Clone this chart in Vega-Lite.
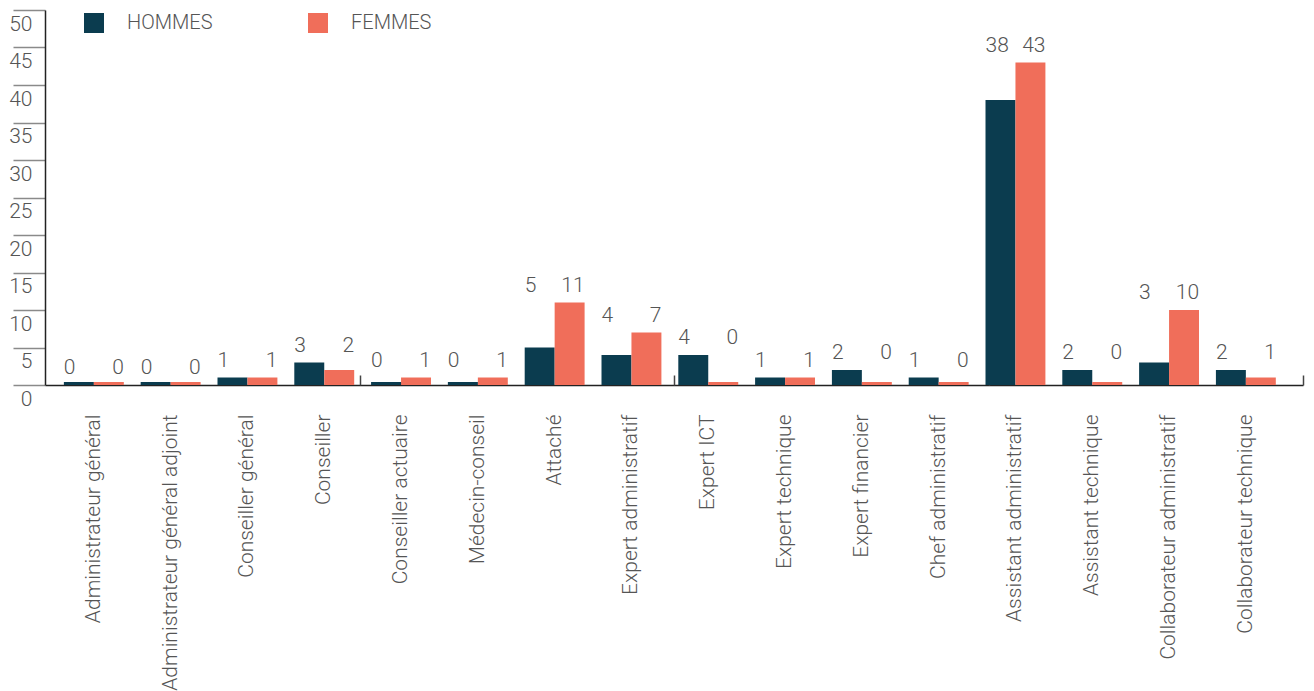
{
  "$schema": "https://vega.github.io/schema/vega-lite/v6.json",
  "width": 1258,
  "height": 375,
  "autosize": {"type": "none"},
  "padding": {"left": 45, "top": 10, "right": 11, "bottom": 306},
  "background": "white",
  "config": {
    "view": {"stroke": null},
    "font": "Roboto",
    "text": {"font": "Roboto", "fontWeight": 300},
    "axisY": {
      "title": null,
      "tickCount": 10,
      "labelOverlap": false,
      "grid": false,
      "ticks": true,
      "tickSize": 32,
      "tickColor": "#8a8a8a",
      "tickWidth": 1.5,
      "domainColor": "#222222",
      "domainWidth": 1.5,
      "labelAlign": "right",
      "labelBaseline": "top",
      "labelOffset": 3,
      "labelPadding": -19,
      "labelFontSize": 21,
      "labelFont": "Roboto",
      "labelFontWeight": 300,
      "labelColor": "#555555"
    }
  },
  "data": {
    "values": [
      {"fonction": "Administrateur général", "sexe": "HOMMES", "n": 0},
      {"fonction": "Administrateur général", "sexe": "FEMMES", "n": 0},
      {"fonction": "Administrateur général adjoint", "sexe": "HOMMES", "n": 0},
      {"fonction": "Administrateur général adjoint", "sexe": "FEMMES", "n": 0},
      {"fonction": "Conseiller général", "sexe": "HOMMES", "n": 1},
      {"fonction": "Conseiller général", "sexe": "FEMMES", "n": 1},
      {"fonction": "Conseiller", "sexe": "HOMMES", "n": 3},
      {"fonction": "Conseiller", "sexe": "FEMMES", "n": 2},
      {"fonction": "Conseiller actuaire", "sexe": "HOMMES", "n": 0},
      {"fonction": "Conseiller actuaire", "sexe": "FEMMES", "n": 1},
      {"fonction": "Médecin-conseil", "sexe": "HOMMES", "n": 0},
      {"fonction": "Médecin-conseil", "sexe": "FEMMES", "n": 1},
      {"fonction": "Attaché", "sexe": "HOMMES", "n": 5},
      {"fonction": "Attaché", "sexe": "FEMMES", "n": 11},
      {"fonction": "Expert administratif", "sexe": "HOMMES", "n": 4},
      {"fonction": "Expert administratif", "sexe": "FEMMES", "n": 7},
      {"fonction": "Expert ICT", "sexe": "HOMMES", "n": 4},
      {"fonction": "Expert ICT", "sexe": "FEMMES", "n": 0},
      {"fonction": "Expert technique", "sexe": "HOMMES", "n": 1},
      {"fonction": "Expert technique", "sexe": "FEMMES", "n": 1},
      {"fonction": "Expert financier", "sexe": "HOMMES", "n": 2},
      {"fonction": "Expert financier", "sexe": "FEMMES", "n": 0},
      {"fonction": "Chef administratif", "sexe": "HOMMES", "n": 1},
      {"fonction": "Chef administratif", "sexe": "FEMMES", "n": 0},
      {"fonction": "Assistant administratif", "sexe": "HOMMES", "n": 38},
      {"fonction": "Assistant administratif", "sexe": "FEMMES", "n": 43},
      {"fonction": "Assistant technique", "sexe": "HOMMES", "n": 2},
      {"fonction": "Assistant technique", "sexe": "FEMMES", "n": 0},
      {"fonction": "Collaborateur administratif", "sexe": "HOMMES", "n": 3},
      {"fonction": "Collaborateur administratif", "sexe": "FEMMES", "n": 10},
      {"fonction": "Collaborateur technique", "sexe": "HOMMES", "n": 2},
      {"fonction": "Collaborateur technique", "sexe": "FEMMES", "n": 1}
    ]
  },
  "transform": [
    {"joinaggregate": [{"op": "max", "field": "n", "as": "haut"}], "groupby": ["fonction"]}
  ],
  "resolve": {"scale": {"x": "independent"}, "axis": {"x": "independent"}},
  "layer": [
    {
      "encoding": {
        "x": {
          "field": "fonction",
          "type": "nominal",
          "sort": ["Administrateur général", "Administrateur général adjoint", "Conseiller général", "Conseiller", "Conseiller actuaire", "Médecin-conseil", "Attaché", "Expert administratif", "Expert ICT", "Expert technique", "Expert financier", "Chef administratif", "Assistant administratif", "Assistant technique", "Collaborateur administratif", "Collaborateur technique"],
          "scale": {"paddingInner": 0.22, "paddingOuter": 0.3, "align": 0.41},
          "axis": {
            "title": null,
            "orient": "bottom",
            "labelAngle": -90,
            "labelFontSize": 21,
            "labelFont": "Roboto",
            "labelFontWeight": 300,
            "labelColor": "#555555",
            "labelPadding": 29,
            "labelLimit": 400,
            "ticks": false,
            "domainColor": "#222222",
            "domainWidth": 1.5
          }
        },
        "xOffset": {"field": "sexe", "type": "nominal", "sort": ["HOMMES", "FEMMES"], "scale": {"paddingInner": 0, "paddingOuter": 0}}
      },
      "layer": [
        {
          "mark": {"type": "bar"},
          "encoding": {
            "y": {
              "field": "n",
              "type": "quantitative",
              "title": null,
              "scale": {"domain": [0, 50], "nice": false}
            },
            "color": {
              "field": "sexe",
              "type": "nominal",
              "scale": {"domain": ["HOMMES", "FEMMES"], "range": ["#0b3c4f", "#f06e5a"]},
              "legend": {
                "title": null,
                "orient": "none",
                "legendX": 39,
                "legendY": 3,
                "direction": "horizontal",
                "padding": 0,
                "symbolType": "square",
                "symbolSize": 400,
                "symbolStrokeWidth": 0,
                "symbolOpacity": 1,
                "labelOffset": 23,
                "labelFontSize": 20,
                "labelFont": "Roboto",
                "labelFontWeight": 300,
                "labelColor": "#555555",
                "columnPadding": 95
              }
            }
          }
        },
        {
          "transform": [{"filter": "datum.n === 0"}],
          "mark": {"type": "tick", "thickness": 3, "size": 30, "yOffset": -1.5, "opacity": 1},
          "encoding": {
            "y": {"field": "n", "type": "quantitative", "title": null},
            "color": {"field": "sexe", "type": "nominal"}
          }
        },
        {
          "transform": [{"filter": "datum.sexe === 'HOMMES'"}],
          "mark": {"type": "text", "align": "left", "baseline": "alphabetic", "dx": -15, "dy": -11, "fontSize": 21, "fontWeight": 300, "color": "#555555"},
          "encoding": {
            "y": {"field": "haut", "type": "quantitative", "title": null},
            "text": {"field": "n", "type": "quantitative"}
          }
        },
        {
          "transform": [{"filter": "datum.sexe === 'FEMMES'"}],
          "mark": {"type": "text", "align": "right", "baseline": "alphabetic", "dx": 15, "dy": -11, "fontSize": 21, "fontWeight": 300, "color": "#555555"},
          "encoding": {
            "y": {"field": "haut", "type": "quantitative", "title": null},
            "text": {"field": "n", "type": "quantitative"}
          }
        }
      ]
    },
    {
      "mark": {"type": "rule", "opacity": 0},
      "encoding": {
        "x": {
          "field": "n",
          "type": "quantitative",
          "scale": {"domain": [0, 4], "nice": false, "zero": false},
          "axis": {
            "title": null,
            "orient": "top",
            "offset": -375,
            "values": [1, 2, 3, 4],
            "labels": false,
            "domain": false,
            "grid": false,
            "ticks": true,
            "tickSize": 10,
            "tickWidth": 1.5,
            "tickColor": "#444444"
          }
        }
      }
    }
  ]
}
